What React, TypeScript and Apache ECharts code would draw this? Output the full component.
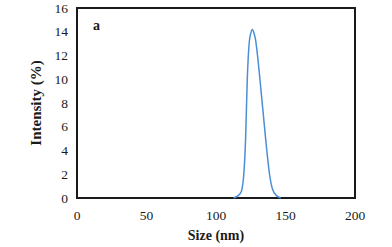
import React, { useEffect, useRef } from "react";
import * as echarts from "echarts";

const sizes = [112.6, 116, 118.4, 120, 121.3, 122.5, 124, 126.1, 128.5, 131.6, 135.7, 138.5, 140.8, 143.5, 146.6];
const intensity = [0, 0.2, 0.6, 2, 5, 10, 13.2, 14.2, 13.3, 10, 5, 2, 0.7, 0.2, 0];
const xTicks = [0, 50, 100, 150, 200];
const yTicks = [0, 2, 4, 6, 8, 10, 12, 14, 16];

export default function App() {
  const ref = useRef<HTMLDivElement>(null);
  useEffect(() => {
    const chart = echarts.init(ref.current!, undefined, { renderer: "svg" });
    const font = "Liberation Serif";
    chart.setOption({
      animation: false,
      backgroundColor: "#fff",
      grid: { left: 77, right: 37, top: 8, bottom: 47, show: true, borderColor: "#1a1a1a", borderWidth: 2 },
      xAxis: {
        type: "value", min: xTicks[0], max: xTicks[xTicks.length - 1], interval: 50,
        name: "Size (nm)", nameLocation: "middle", nameGap: 30,
        nameTextStyle: { fontFamily: font, fontSize: 14, fontWeight: "bold", color: "#1a1a1a" },
        axisLine: { show: false }, axisTick: { show: false }, splitLine: { show: false },
        axisLabel: { fontFamily: font, fontSize: 13.5, color: "#1a1a1a", margin: 10 },
      },
      yAxis: {
        type: "value", min: yTicks[0], max: yTicks[yTicks.length - 1], interval: 2,
        name: "Intensity (%)", nameLocation: "middle", nameGap: 34,
        nameTextStyle: { fontFamily: font, fontSize: 15, fontWeight: "bold", color: "#1a1a1a" },
        axisLine: { show: false }, axisTick: { show: false }, splitLine: { show: false },
        axisLabel: { fontFamily: font, fontSize: 13.5, color: "#1a1a1a", margin: 9 },
      },
      graphic: [
        { type: "text", left: 93, top: 18, style: { text: "a", fontFamily: font, fontSize: 14, fontWeight: "bold", fill: "#1a1a1a" } },
      ],
      series: [
        {
          type: "line", data: sizes.map((s, i) => [s, intensity[i]]),
          smooth: 0.3, showSymbol: false, lineStyle: { color: "#4a8fd6", width: 1.5 },
        },
      ],
    });
    return () => chart.dispose();
  }, []);
  return <div ref={ref} style={{ width: 392, height: 247, position: "absolute", left: 0, top: 0 }} />;
}
